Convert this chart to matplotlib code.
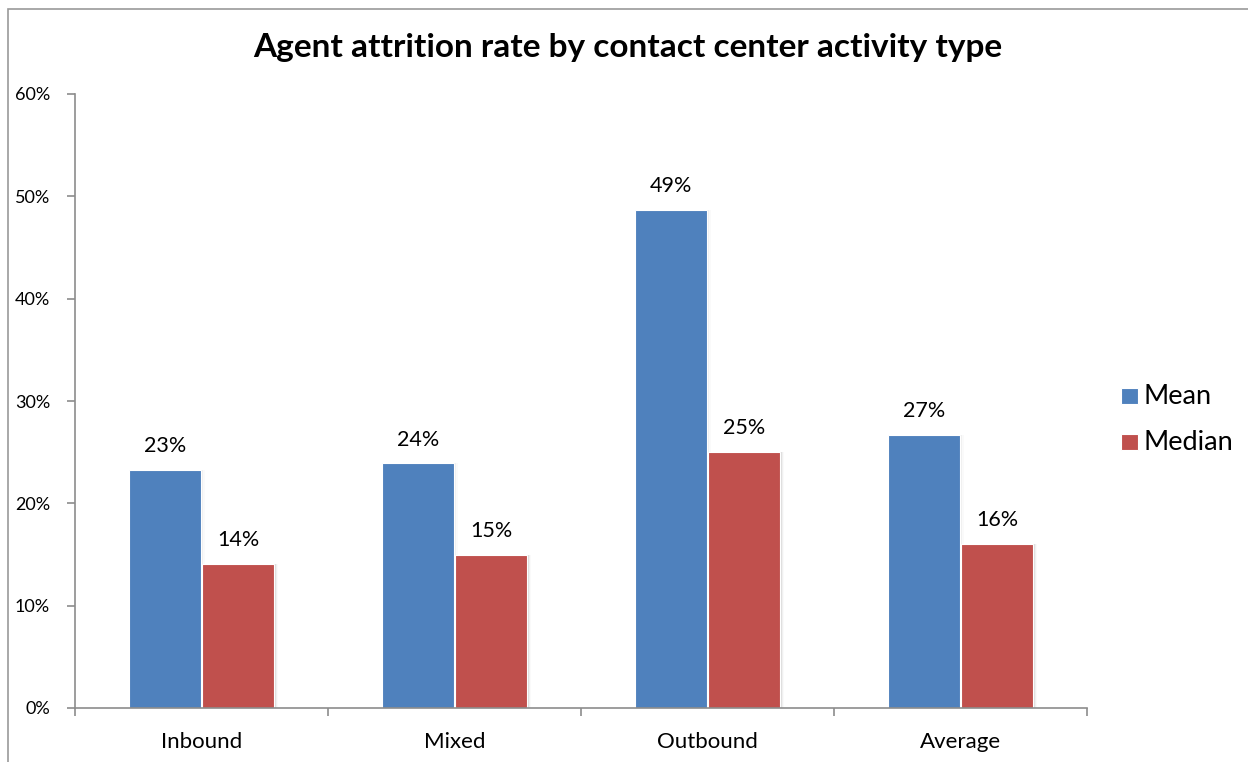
import matplotlib.pyplot as plt
import numpy as np
from matplotlib.patches import Rectangle
from matplotlib.ticker import FuncFormatter

categories = ['Inbound', 'Mixed', 'Outbound', 'Average']
mean_rate = [23.3, 23.9, 48.7, 26.7]
median_rate = [14.1, 15.0, 25.0, 16.0]

blue = '#4F81BD'
red = '#C0504D'
grid_gray = '#8C8C8C'

plt.rcParams['font.family'] = ['Lato', 'DejaVu Sans']

fig = plt.figure(figsize=(12.48, 7.62), dpi=100)
# chart area frame
fig.patches.append(Rectangle((8 / 1248, -0.1), 1.2, 1.1 - 9 / 762,
                             transform=fig.transFigure, fill=False,
                             edgecolor='#9A9A9A', linewidth=1.2))

ax = fig.add_axes([75 / 1248, 1 - 708 / 762, 1012 / 1248, 614 / 762])

x = np.arange(len(categories))
w = 0.285
off = 0.145

for xs, vals, col in ((x - off, mean_rate, blue), (x + off, median_rate, red)):
    # soft drop shadow on the right side of each bar
    for k, a in enumerate((0.07, 0.04, 0.02)):
        ax.bar(xs + 0.005 * (k + 1), vals, w, color='black', alpha=a,
               linewidth=0, zorder=1)
    bars = ax.bar(xs, vals, w, color=col, edgecolor='white',
                  linewidth=0.8, zorder=2)
    for b, v in zip(bars, vals):
        ax.annotate('%d%%' % round(v), (b.get_x() + b.get_width() / 2, v),
                    xytext=(0, 10), textcoords='offset points',
                    ha='center', va='bottom', fontsize=15.5)

ax.set_xlim(-0.5, 3.5)
ax.set_ylim(0, 60)
ax.set_yticks(np.arange(0, 61, 10))
ax.yaxis.set_major_formatter(FuncFormatter(lambda v, p: '%d%%' % v))
ax.set_xticks(np.arange(-0.5, 3.6, 1.0))
ax.set_xticklabels([])
ax.set_xticks(x, minor=True)
ax.set_xticklabels(categories, minor=True, fontsize=16)
ax.tick_params(axis='x', which='minor', length=0, pad=17)
ax.tick_params(axis='x', which='major', length=6, color=grid_gray, width=1.2)
ax.tick_params(axis='y', length=6, color=grid_gray, width=1.2, labelsize=13, pad=12)

for s in ('top', 'right'):
    ax.spines[s].set_visible(False)
for s in ('left', 'bottom'):
    ax.spines[s].set_color(grid_gray)
    ax.spines[s].set_linewidth(1.2)

fig.text(628 / 1248, 1 - 48 / 762, 'Agent attrition rate by contact center activity type',
         ha='center', va='center', fontsize=24, fontweight='bold')

# legend
for i, (lab, col) in enumerate((('Mean', blue), ('Median', red))):
    yy = 1 - (396 + 46 * i) / 762
    fig.patches.append(Rectangle((1121 / 1248, yy - 8 / 762), 17 / 1248, 16 / 762,
                                 transform=fig.transFigure, facecolor=col,
                                 edgecolor='white', linewidth=0.8))
    fig.text(1143 / 1248, yy, lab, ha='left', va='center', fontsize=19.5)

fig.savefig('out.png', dpi=100)
